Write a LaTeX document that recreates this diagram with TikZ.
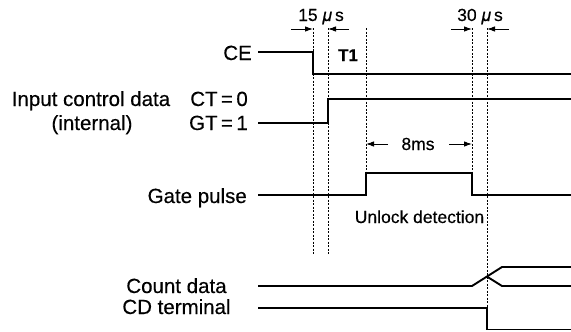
\documentclass[tikz,border=0pt]{standalone}
\usepackage{fontspec}
\setmainfont{Liberation Sans}[FakeBold=0.35]
\usetikzlibrary{arrows.meta}

\begin{document}
\begin{tikzpicture}[x=1pt,y=-1pt,
  wave/.style={line width=1.9pt},
  guide/.style={line width=0.7pt,dash pattern=on 2pt off 1.5pt},
  dimarrow/.style={line width=0.9pt,-{Latex[length=8pt,width=5.5pt]}},
  lbl/.style={font=\fontsize{20.5}{23}\selectfont,inner sep=0pt},
  note/.style={font=\fontsize{17.5}{20}\selectfont,inner sep=0pt}]
\useasboundingbox (0,0) rectangle (571,332);
% dotted guides
\draw[guide] (313,28) -- (313,255);
\draw[guide] (328,28) -- (328,255);
\draw[guide] (366,28) -- (366,173);
\draw[guide] (472,28) -- (472,173);
\draw[guide] (487,28) -- (487,308);
% time marks
\node[note,anchor=base] (us15) at (321,21) {15 {\itshape μ}\,s};
\draw[dimarrow] (291,29) -- (313,29);
\draw[dimarrow] (349,29) -- (328,29);
\node[note,anchor=base] (us30) at (480,21) {30 {\itshape μ}\,s};
\draw[dimarrow] (451,29) -- (472,29);
\draw[dimarrow] (509,29) -- (487,29);
\node[note,anchor=base,font=\fontsize{17}{19}\selectfont\bfseries] (t1) at (348,61) {T1};
\node[note,anchor=base] (ms8) at (418,150) {8ms};
\draw[dimarrow] (388,144) -- (366,144);
\draw[dimarrow] (449,144) -- (472,144);
\node[note,anchor=base] (unlock) at (419.5,223) {Unlock detection};
% signal names
\node[lbl,anchor=base east] (ce) at (252,60) {CE};
\node[lbl,anchor=base] (ictl) at (91,106) {Input control data};
\node[lbl,anchor=base] (intl) at (92,130) {(internal)};
\node[lbl,anchor=base east] (ct) at (248,106) {CT\,=\,0};
\node[lbl,anchor=base east] (gt) at (248,130) {GT\,=\,1};
\node[lbl,anchor=base east] (gate) at (247,203) {Gate pulse};
\node[lbl,anchor=base] (cnt) at (176.5,293) {Count data};
\node[lbl,anchor=base] (cdt) at (176.5,314) {CD terminal};
% waveforms
\draw[wave] (258,51.7) -- (313,51.7) -- (313,74) -- (571,74);
\draw[wave] (258,123) -- (328,123) -- (328,99.3) -- (571,99.3);
\draw[wave] (258,195) -- (366,195) -- (366,172.7) -- (472,172.7) -- (472,195) -- (571,195);
\draw[wave] (258,286) -- (472,286) -- (502,267) -- (571,267);
\draw[wave] (487,276.6) -- (502,286) -- (571,286);
\draw[wave] (258,308) -- (487,308) -- (487,329.5) -- (571,329.5);
\end{tikzpicture}
\end{document}
